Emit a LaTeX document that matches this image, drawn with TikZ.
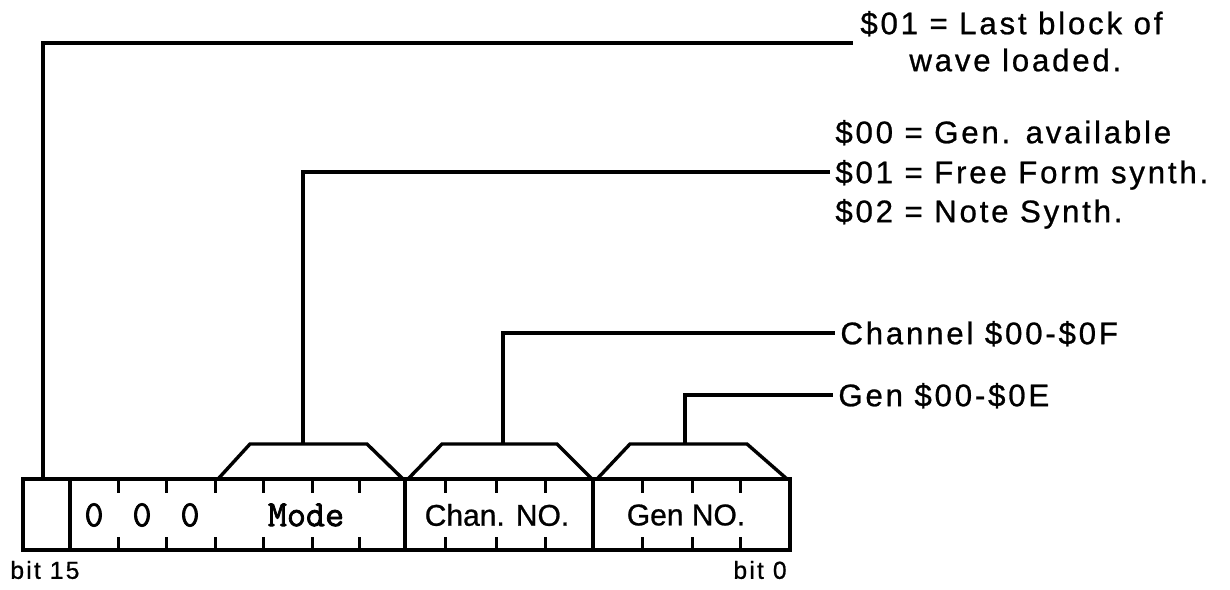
\documentclass[tikz,border=0pt]{standalone}
\usepackage{fontspec}
\setmainfont{Liberation Sans}
\newfontfamily\lblfont[LetterSpace=9,FakeBold=0.8]{Liberation Sans}
\newfontfamily\boxfont[FakeBold=0.8]{Liberation Sans}
\newfontfamily\cellmono[FakeBold=2]{Latin Modern Mono}
\begin{document}
\begin{tikzpicture}[x=0.5pt,y=-0.5pt,
  wire/.style={line width=1.7pt, line join=miter},
  frame/.style={line width=1.7pt, line join=miter},
  tickmark/.style={line width=1.5pt},
  lbl/.style={font=\lblfont\fontsize{15.6pt}{18pt}\selectfont, anchor=west, inner xsep=2.5pt, inner ysep=0pt, text height=11.2pt, text depth=0pt},
  celltxt/.style={font=\boxfont\fontsize{15pt}{18pt}\selectfont, inner sep=0pt},
  monotxt/.style={font=\cellmono\fontsize{18.5pt}{20pt}\selectfont, inner sep=0pt},
  bitlbl/.style={font=\lblfont\fontsize{12.3pt}{14pt}\selectfont, inner sep=0pt}]
\useasboundingbox (0,0) rectangle (1230,589);

% labels on the right
\node[lbl] (L1) at (855,23) {\$01 = Last block of};
\node[lbl] (L1b) at (904,60) {wave loaded.};
\node[lbl] (L2) at (830,132) {\$00 = Gen. available};
\node[lbl] (L3) at (830,172) {\$01 = Free Form synth.};
\node[lbl] (L4) at (830,211) {\$02 = Note Synth.};
\node[lbl] (L5) at (835,333) {Channel \$00-\$0F};
\node[lbl] (L6) at (833,395) {Gen \$00-\$0E};

% register frame
\draw[frame] (23,479) rectangle (790,550);
\draw[frame] (70,479) -- (70,550);
\draw[frame] (405,479) -- (405,550);
\draw[frame] (593,479) -- (593,550);
\foreach \x in {118,166,215,263,312,359,445,496,545,642,692,740}{
  \draw[tickmark] (\x,479) -- (\x,493);
  \draw[tickmark] (\x,537) -- (\x,550);
}

% field brackets
\draw[frame] (218,479) -- (250,444) -- (367,444) -- (403,479);
\draw[frame] (408,479) -- (442,444) -- (557,444) -- (592,479);
\draw[frame] (597,479) -- (630,444) -- (747,444) -- (787,479);

% cell texts
\node[monotxt] (z1) at (94,515) {0};
\node[monotxt] (z2) at (142,515) {0};
\node[monotxt] (z3) at (190,515) {0};
\node[monotxt] (mode) at (306,515) {Mode};
\node[celltxt] (chan) at (497,515) {Chan. NO.};
\node[celltxt] (gen) at (686,515) {Gen NO.};

\node[bitlbl, anchor=west] (b15) at (10,570) {bit 15};
\node[bitlbl, anchor=east] (b0) at (787,570) {bit 0};

% connectors
\coordinate (bt) at (43,479);
\coordinate (mt) at (303,444);
\coordinate (ct) at (503,444);
\coordinate (gt) at (685,444);
\coordinate (e1) at (853,43);
\draw[wire] (bt) |- (e1);
\draw[wire] (mt) |- (L3.west);
\draw[wire] (ct) |- (L5.west);
\draw[wire] (gt) |- (L6.west);
\end{tikzpicture}
\end{document}
